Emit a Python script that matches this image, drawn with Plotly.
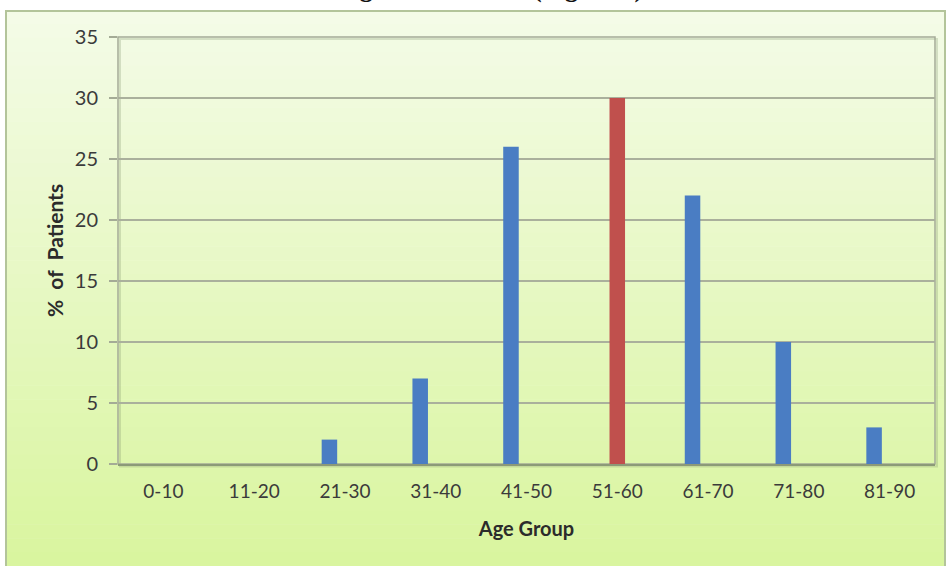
import plotly.graph_objects as go

# ---- data ----
age_groups = ["0-10", "11-20", "21-30", "31-40", "41-50", "51-60", "61-70", "71-80", "81-90"]
pct_patients = [0, 0, 2, 7, 26, 30, 22, 10, 3]
highlight_group = "51-60"

title_text = "Age Distribution (Figure 3)"
x_title = "Age Group"
y_title = "%  of  Patients"
y_ticks = [0, 5, 10, 15, 20, 25, 30, 35]

# ---- layout geometry (pixels) ----
W, H = 949, 566
ML, MR, MT, MB = 118, 14, 37, 102
PW = W - ML - MR
PH = H - MT - MB

def px_x(px):
    return (px - ML) / PW

def px_y(py):
    return (H - MB - py) / PH

blue_x = [g for g in age_groups if g != highlight_group]
blue_y = [v for g, v in zip(age_groups, pct_patients) if g != highlight_group]
red_x = [g for g in age_groups if g == highlight_group]
red_y = [v for g, v in zip(age_groups, pct_patients) if g == highlight_group]

bw = 0.171
fig = go.Figure()
fig.add_trace(go.Bar(x=blue_x, y=blue_y, width=bw, offset=-1.5 * bw,
                     marker=dict(color="#4a7dc3", line=dict(width=0)), showlegend=False))
fig.add_trace(go.Bar(x=red_x, y=red_y, width=bw, offset=-0.5 * bw,
                     marker=dict(color="#c0504d", line=dict(width=0)), showlegend=False))

shapes = []
# gradient background of the chart box
top_c = (244, 251, 232)
bot_c = (217, 245, 158)
y0px, y1px = 10, H
n = 40
for i in range(n):
    a = y0px + (y1px - y0px) * i / n
    b = y0px + (y1px - y0px) * (i + 1) / n
    t = (i + 0.5) / n
    c = tuple(int(round(top_c[k] + (bot_c[k] - top_c[k]) * t)) for k in range(3))
    shapes.append(dict(type="rect", xref="paper", yref="paper", layer="below",
                       x0=px_x(5), x1=px_x(946), y0=px_y(b + 0.5), y1=px_y(a),
                       line=dict(width=0), fillcolor="rgb(%d,%d,%d)" % c))
# outer box border
shapes.append(dict(type="rect", xref="paper", yref="paper", layer="below",
                   x0=px_x(6), x1=px_x(945), y0=px_y(H + 5), y1=px_y(11),
                   line=dict(width=2, color="#b3c49a"), fillcolor="rgba(0,0,0,0)"))
# plot-area shadow and border
shapes.append(dict(type="rect", xref="paper", yref="paper", layer="below",
                   x0=px_x(120), x1=px_x(937), y0=px_y(466.5), y1=px_y(39),
                   line=dict(width=2, color="rgba(120,140,100,0.25)"), fillcolor="rgba(0,0,0,0)"))
shapes.append(dict(type="rect", xref="paper", yref="paper", layer="below",
                   x0=0, x1=1, y0=0, y1=1,
                   line=dict(width=1.5, color="#a4ab96"), fillcolor="rgba(0,0,0,0)"))

fig.update_layout(
    width=W, height=H,
    margin=dict(l=ML, r=MR, t=MT, b=MB),
    paper_bgcolor="white",
    plot_bgcolor="rgba(0,0,0,0)",
    barmode="overlay",
    shapes=shapes,
    font=dict(family="Lato, 'Open Sans', sans-serif", color="#3b3b3b"),
    xaxis=dict(
        type="category", categoryorder="array", categoryarray=age_groups,
        range=[-0.5, len(age_groups) - 0.5],
        showgrid=False, showline=True, linecolor="#8c9a78", linewidth=2,
        ticks="", tickfont=dict(size=19, color="#3b3b3b"),
        ticklabelstandoff=9,
        title=dict(text="<b>" + x_title + "</b>", font=dict(size=20, color="#2b2b2b"), standoff=21),
        fixedrange=True,
    ),
    yaxis=dict(
        range=[0, 35], tickvals=y_ticks,
        showgrid=True, gridcolor="#aab09c", gridwidth=1.5,
        zeroline=False, showline=False,
        ticks="outside", ticklen=8, tickcolor="#a4ab96", tickwidth=1.5,
        tickfont=dict(size=20, color="#3b3b3b"),
        ticklabelstandoff=7,
        title=dict(text="<b>" + y_title + "</b>", font=dict(size=21, color="#2b2b2b"), standoff=5),
        fixedrange=True,
    ),
    annotations=[dict(
        text="<b>" + title_text + "</b>", xref="paper", yref="paper",
        x=px_x(492), y=px_y(-12), xanchor="center", yanchor="middle",
        showarrow=False, font=dict(family="'Liberation Serif', 'DejaVu Serif', serif", size=26, color="#111111"),
    )],
)

fig.write_html("out.html", config={"displayModeBar": False},
               post_script="document.body.style.margin='0';")
